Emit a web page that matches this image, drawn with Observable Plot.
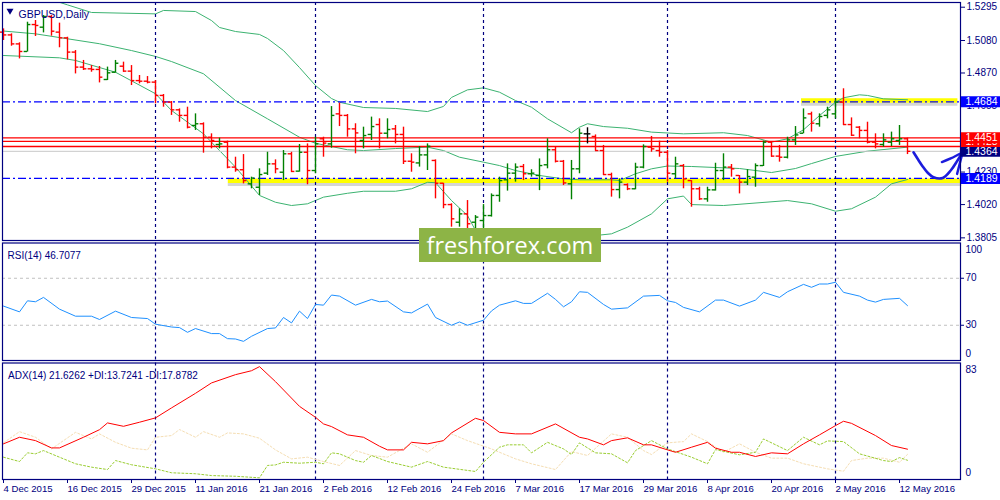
<!DOCTYPE html>
<html><head><meta charset="utf-8">
<script src="https://cdn.jsdelivr.net/npm/d3@7"></script>
<script src="https://cdn.jsdelivr.net/npm/@observablehq/plot@0.6"></script>
<style>
html,body{margin:0;padding:0;background:#fff;}
#wrap{position:relative;width:1000px;height:500px;overflow:hidden;background:#fff;}
#wrap svg{position:absolute;left:0;top:0;}
#wm{position:absolute;left:419px;top:228px;width:182px;height:34px;background:#8db446;color:#fff;
 font-family:'Open Sans',sans-serif;font-size:23.5px;line-height:34px;text-align:center;}
</style></head><body><div id="wrap"></div>
<script>
// ---------- data ----------
const dateTickIdx = [0,8,16,24,32,40,48,56,64,72,80,88,96,104,112];
const dateLabels = ["4 Dec 2015","16 Dec 2015","29 Dec 2015","11 Jan 2016","21 Jan 2016","2 Feb 2016","12 Feb 2016","24 Feb 2016","7 Mar 2016","17 Mar 2016","29 Mar 2016","8 Apr 2016","20 Apr 2016","2 May 2016","12 May 2016"];
const monthStartIdx = [19,39,60,83,104];

const open = [1.5134,1.5116,1.5058,1.5009,1.5183,1.5166,1.5235,1.5134,1.5097,1.5005,
1.4908,1.4897,1.4893,1.4828,1.4875,1.4914,1.4882,1.4821,1.4817,1.4811,
1.4725,1.4682,1.4632,1.4596,1.4531,1.4542,1.4455,1.4408,1.4423,1.4262,
1.4245,1.4154,1.4132,1.4223,1.4283,1.4229,1.4348,1.4236,1.4358,1.4240,
1.4445,1.4412,1.4606,1.4596,1.4509,1.4434,1.4473,1.4537,1.4481,1.4509,
1.4473,1.4300,1.4289,1.4341,1.4305,1.4158,1.4020,1.3906,1.3960,1.3906,
1.3917,1.3949,1.4079,1.4180,1.4223,1.4266,1.4219,1.4208,1.4277,1.4374,
1.4300,1.4154,1.4251,1.4477,1.4460,1.4369,1.4214,1.4117,1.4149,1.4122,
1.4262,1.4391,1.4369,1.4358,1.4219,1.4272,1.4175,1.4122,1.4057,1.4115,
1.4240,1.4262,1.4208,1.4165,1.4197,1.4272,1.4423,1.4333,1.4326,1.4438,
1.4481,1.4606,1.4542,1.4596,1.4606,1.4682,1.4537,1.4520,1.4499,1.4423,
1.4408,1.4423,1.4434,1.4445];
const high = [1.5155,1.5123,1.5065,1.5198,1.5209,1.5241,1.5241,1.5192,1.5101,1.5015,
1.4951,1.4918,1.4912,1.4908,1.4951,1.4940,1.4918,1.4854,1.4847,1.4821,
1.4731,1.4686,1.4638,1.4649,1.4606,1.4548,1.4477,1.4449,1.4430,1.4326,
1.4343,1.4197,1.4251,1.4358,1.4309,1.4369,1.4358,1.4408,1.4412,1.4455,
1.4455,1.4653,1.4675,1.4602,1.4542,1.4520,1.4585,1.4574,1.4574,1.4531,
1.4520,1.4348,1.4395,1.4412,1.4309,1.4158,1.4025,1.3993,1.4046,1.3949,
1.4020,1.4089,1.4197,1.4283,1.4283,1.4279,1.4245,1.4315,1.4445,1.4391,
1.4305,1.4305,1.4509,1.4516,1.4470,1.4402,1.4223,1.4186,1.4154,1.4287,
1.4406,1.4460,1.4430,1.4369,1.4326,1.4279,1.4175,1.4132,1.4132,1.4287,
1.4348,1.4279,1.4208,1.4245,1.4283,1.4430,1.4423,1.4402,1.4455,1.4524,
1.4638,1.4617,1.4606,1.4649,1.4697,1.4768,1.4580,1.4524,1.4552,1.4477,
1.4477,1.4488,1.4531,1.4449];
const low = [1.5080,1.5043,1.4961,1.5005,1.5106,1.5129,1.5108,1.5033,1.4955,1.4864,
1.4886,1.4875,1.4806,1.4821,1.4869,1.4875,1.4789,1.4800,1.4800,1.4671,
1.4649,1.4596,1.4552,1.4509,1.4499,1.4352,1.4380,1.4380,1.4251,1.4229,
1.4154,1.4122,1.4079,1.4208,1.4219,1.4175,1.4229,1.4229,1.4148,1.4219,
1.4326,1.4384,1.4524,1.4455,1.4348,1.4380,1.4434,1.4380,1.4445,1.4412,
1.4279,1.4229,1.4262,1.4240,1.4057,1.3993,1.3874,1.3874,1.3853,1.3831,
1.3853,1.3939,1.4035,1.4107,1.4165,1.4175,1.4197,1.4110,1.4251,1.4289,
1.4143,1.4051,1.4219,1.4412,1.4365,1.4208,1.4068,1.4057,1.4110,1.4115,
1.4251,1.4358,1.4326,1.4165,1.4186,1.4122,1.4003,1.4046,1.4035,1.4107,
1.4175,1.4197,1.4089,1.4143,1.4132,1.4266,1.4326,1.4294,1.4315,1.4402,
1.4477,1.4488,1.4520,1.4574,1.4574,1.4531,1.4460,1.4445,1.4412,1.4380,
1.4391,1.4395,1.4402,1.4343];
const close = [1.5116,1.5058,1.5009,1.5183,1.5177,1.5235,1.5140,1.5097,1.5005,1.4908,
1.4897,1.4893,1.4843,1.4871,1.4933,1.4882,1.4821,1.4817,1.4811,1.4725,
1.4682,1.4632,1.4596,1.4520,1.4542,1.4455,1.4434,1.4412,1.4262,1.4245,
1.4175,1.4191,1.4214,1.4283,1.4251,1.4348,1.4234,1.4358,1.4240,1.4412,
1.4417,1.4596,1.4596,1.4509,1.4483,1.4466,1.4524,1.4481,1.4505,1.4473,
1.4300,1.4294,1.4341,1.4397,1.4158,1.4020,1.3928,1.3960,1.3896,1.3939,
1.3949,1.4079,1.4175,1.4223,1.4262,1.4219,1.4223,1.4272,1.4374,1.4300,
1.4160,1.4251,1.4481,1.4477,1.4369,1.4214,1.4117,1.4165,1.4122,1.4262,
1.4395,1.4380,1.4358,1.4223,1.4283,1.4186,1.4122,1.4057,1.4115,1.4240,
1.4262,1.4251,1.4165,1.4201,1.4272,1.4423,1.4333,1.4326,1.4438,1.4470,
1.4580,1.4546,1.4589,1.4632,1.4682,1.4537,1.4468,1.4499,1.4423,1.4412,
1.4438,1.4445,1.4445,1.4364];

// Bollinger bands [bar index, price]
const bbUpper = [[0,1.5400],[5,1.5360],[8,1.5310],[11,1.5261],[19,1.5252],[20,1.5274],[24,1.5267],[26,1.5209],[27,1.5164],[29,1.5138],[32,1.5119],[33,1.5093],[35,1.5015],[37,1.4905],[39,1.4789],[41,1.4705],[42,1.4681],[45,1.4647],[49,1.4641],[53,1.4621],[55,1.4654],[56,1.4712],[58,1.4761],[60,1.4774],[62,1.4746],[64,1.4692],[66,1.4649],[68,1.4574],[71,1.4484],[72,1.4520],[73,1.4542],[75,1.4524],[78,1.4513],[81,1.4488],[85,1.4477],[90,1.4484],[93,1.4466],[96,1.4423],[98,1.4445],[100,1.4503],[102,1.4595],[104,1.4681],[105,1.4710],[107,1.4729],[108,1.4725],[110,1.4703],[113,1.4697]];
const bbMiddle = [[0,1.5141],[4,1.5123],[8,1.5091],[12,1.5059],[16,1.5015],[19,1.4977],[21,1.4944],[25,1.4865],[29,1.4692],[33,1.4574],[37,1.4455],[39,1.4416],[43,1.4374],[45,1.4369],[49,1.4382],[53,1.4391],[55,1.4369],[57,1.4326],[60,1.4294],[62,1.4272],[64,1.4240],[67,1.4208],[70,1.4186],[72,1.4180],[76,1.4180],[77,1.4175],[79,1.4219],[81,1.4251],[83,1.4269],[86,1.4266],[92,1.4253],[96,1.4227],[99,1.4253],[101,1.4285],[104,1.4331],[108,1.4365],[113,1.4391]];
const bbLower = [[0,1.4983],[7,1.4968],[9,1.4951],[14,1.4875],[19,1.4736],[21,1.4628],[25,1.4477],[27,1.4369],[29,1.4262],[31,1.4140],[32,1.4079],[34,1.4035],[36,1.4014],[38,1.4025],[40,1.4068],[43,1.4093],[45,1.4106],[49,1.4106],[51,1.4122],[53,1.4164],[54,1.4161],[56,1.4046],[58,1.3949],[59,1.3853],[62,1.3801],[66,1.3785],[70,1.3801],[74,1.3820],[76,1.3831],[78,1.3874],[81,1.3960],[83,1.4057],[85,1.4075],[86,1.4020],[90,1.4014],[98,1.4046],[101,1.4025],[104,1.3977],[106,1.3993],[109,1.4068],[111,1.4154],[113,1.4182]];

const rsi = [[0,46.3],[2,41.4],[3,50.8],[4,50],[5,53.7],[7,43.7],[9,37.7],[11,37.7],[12,34.9],[14,42],[16,36.6],[18,35.7],[19,30.9],[21,28.5],[22,28],[23,24],[24,27.2],[26,22.9],[27,22.9],[28,18.6],[29,18.3],[30,16.3],[31,20.6],[33,27.2],[34,27.7],[35,36.6],[36,32],[37,42],[38,35.7],[39,47.7],[40,47.1],[41,55.7],[42,54.8],[44,47.1],[46,52],[47,50],[48,50.6],[50,41.4],[51,40.5],[53,48],[54,36.6],[56,30],[57,32.8],[58,30],[60,34.3],[61,42.2],[62,47.1],[64,50.8],[65,48.6],[66,48.6],[68,57.2],[69,52],[70,45.7],[71,50],[72,58.5],[73,58],[75,47.7],[76,43.7],[78,44.8],[80,54.8],[82,55.4],[83,50.8],[84,49.4],[85,45.2],[87,41.4],[89,51.4],[90,51.4],[92,46.3],[94,51.4],[95,58],[97,53.7],[98,58.5],[100,64.8],[101,62.3],[102,65.1],[103,65.1],[104,66.6],[105,58],[107,54.8],[108,51.4],[109,49.7],[110,52],[112,52.9],[113,46.7]];
const rsiLevels = [70,30];

const adx = [[0,25.4],[2,30.1],[4,27.7],[6,22.5],[7,22.5],[10,30.1],[12,35.5],[13,40.3],[15,37.9],[17,40.8],[19,43.9],[21,51],[24,61.4],[26,68.8],[29,74.7],[31,77.5],[32,80.4],[34,69.7],[37,52.1],[39,44.3],[40,39.6],[41,37.7],[43,31.8],[45,30.1],[47,23.7],[48,21.1],[50,21.1],[51,26.5],[53,25.4],[55,27.7],[56,33.2],[59,43.6],[60,42],[62,33.6],[64,32.5],[66,32.5],[69,39.6],[72,30.1],[73,28.9],[75,24.7],[76,27.7],[78,29.7],[80,24.7],[81,24.7],[83,21.1],[84,19.4],[86,23],[88,26.5],[89,22.3],[91,19.4],[92,19.4],[94,16.4],[96,19],[98,18.3],[100,25.4],[102,31.8],[104,38.4],[105,41.5],[106,40],[109,31.3],[111,24.2],[113,21.6]];
const plusDI = [[0,15.9],[2,12.8],[3,19],[4,18.3],[5,20.6],[7,15.9],[9,11.2],[11,8.8],[13,7.1],[14,13.5],[16,10.5],[19,7.6],[21,4.8],[24,4.1],[26,2.8],[29,2.3],[32,1.2],[33,10],[34,10.4],[35,12.3],[37,11.6],[39,12.3],[40,11.2],[41,19],[42,18.3],[44,13.5],[45,12.3],[46,17.1],[48,12.8],[51,8.8],[53,12.8],[55,8.8],[59,5.7],[60,12.3],[62,23],[63,24.7],[65,24.7],[66,19],[68,26.5],[70,21.8],[71,17.8],[72,26.1],[74,19],[76,18.3],[78,11.9],[79,20.6],[81,27.7],[83,21.8],[86,15.9],[88,11.2],[89,21.3],[92,17.6],[94,19.4],[95,28.9],[98,20.6],[100,30.1],[102,24.7],[103,27.5],[105,27],[107,18.3],[110,13.5],[111,12.8],[112,15.6],[113,13.7]];
const minusDI = [[0,26.1],[2,34.1],[4,30.1],[6,21.8],[9,33.6],[11,28.9],[12,32.5],[14,26.5],[16,22.3],[18,21.1],[19,30.1],[21,31.3],[22,35.6],[24,30.1],[25,34.1],[27,30.1],[28,33.2],[30,32.5],[32,29.4],[34,21.1],[36,14.7],[38,15.9],[40,12.8],[42,10],[44,20.6],[46,17.1],[48,15.9],[51,25.4],[53,19.4],[56,32.5],[58,27.7],[61,21.8],[62,19.4],[64,14.7],[66,11.2],[69,7.1],[70,13.5],[71,19.9],[73,17.1],[76,32.5],[78,30.1],[80,20.6],[81,17.8],[83,26.1],[85,27],[86,32.5],[88,27],[90,19.4],[92,25.4],[94,19.4],[96,15.2],[98,15.2],[100,11.2],[103,7.6],[105,5.9],[106,13.5],[108,15.2],[110,15.2],[112,12.3],[113,17.9]];

const priceTicks = [1.5295,1.5080,1.4870,1.4655,1.4445,1.4230,1.4020,1.3805];
const resistance = 1.4684, support = 1.4189;
const redLevels = [1.4451,1.4428,1.4395];
const bidLevel = 1.4364;
const resistanceZone = [99.75,119.3];
const supportZone = [28.1,119.8];
const arrowCurve = [[113.75,1.4358],[114.4,1.4305],[114.9,1.4266],[115.5,1.4227],[116.25,1.4197],[117.4,1.4192],[118.4,1.4240],[119.25,1.4305],[119.9,1.4358]];
const arrowWing1 = [[117.3,1.4295],[118.4,1.4318],[119.9,1.4358]];
const arrowWing2 = [[119.2,1.4218],[119.9,1.4358]];
const titleText = "GBPUSD,Daily";
const rsiText = "RSI(14) 46.7077";
const adxText = "ADX(14) 21.6262 +DI:13.7241 -DI:17.8782";
const adxMax = 83;

// ---------- drawing ----------
const NAVY = "#000080", FONT = "'Liberation Sans', Arial, sans-serif";
const xDomain = [-0.125, 119.625];
const wrap = document.getElementById("wrap");
const bars = open.map((o,i)=>({i, open:o, high:high[i], low:low[i], close:close[i]}));
const groups = [
  [bars.filter(d=>d.close>d.open), "#008000"],
  [bars.filter(d=>d.close<d.open), "#ff0000"],
  [bars.filter(d=>d.close===d.open), "#000000"]
];
const px = d=>d[0], py = d=>d[1];
const boxX1 = xDomain[1]+0.12, boxX2 = xDomain[1]+6;

function panel(marginTop, marginBottom, yDomain, marks, opts){
  return Plot.plot({
    width:1000, height:500, marginLeft:2, marginRight:40, marginTop, marginBottom,
    x:{domain:xDomain, ...(opts.xAxis ? {} : {axis:null})},
    y:{domain:yDomain, ...(opts.yAxis ? {} : {axis:null})},
    style:{background: opts.bg ? "#fff" : "transparent", color:NAVY, fontFamily:FONT, fontSize:"10px"},
    marks
  });
}

const priceMarks = [
  Plot.ruleY([resistance], {x1:resistanceZone[0], x2:resistanceZone[1], stroke:"#888", strokeOpacity:0.35, strokeWidth:3, dy:2.5}),
  Plot.ruleY([resistance], {x1:resistanceZone[0], x2:resistanceZone[1], stroke:"#ffff00", strokeWidth:4.5, dy:-1.3}),
  Plot.ruleY([support], {x1:supportZone[0], x2:supportZone[1], stroke:"#888", strokeOpacity:0.35, strokeWidth:3, dy:6}),
  Plot.ruleY([support], {x1:supportZone[0], x2:supportZone[1], stroke:"#ffff00", strokeWidth:4.5, dy:2.3}),
  Plot.line(bbUpper, {x:px, y:py, stroke:"#3cb371", strokeWidth:1, clip:true}),
  Plot.line(bbMiddle, {x:px, y:py, stroke:"#3cb371", strokeWidth:1, clip:true}),
  Plot.line(bbLower, {x:px, y:py, stroke:"#3cb371", strokeWidth:1, clip:true}),
  Plot.ruleY([bidLevel], {stroke:"#c8c8c8", strokeWidth:1}),
  Plot.ruleY(redLevels, {stroke:"#ff0000", strokeWidth:1.3}),
  Plot.ruleY([resistance, support], {stroke:"#0000ff", strokeWidth:1.2, strokeDasharray:"8,3,2,3"}),
  Plot.ruleX(monthStartIdx, {stroke:NAVY, strokeWidth:1.2, strokeDasharray:"3,3"}),
];
for (const [data, color] of groups) {
  priceMarks.push(
    Plot.ruleX(data, {x:"i", y1:"low", y2:"high", stroke:color, strokeWidth:1.4}),
    Plot.ruleY(data, {y:"open", x1:d=>d.i-0.42, x2:"i", stroke:color, strokeWidth:1.4}),
    Plot.ruleY(data, {y:"close", x1:"i", x2:d=>d.i+0.42, stroke:color, strokeWidth:1.4})
  );
}
const boxText = {frameAnchor:"right", dx:5, textAnchor:"start", fill:"#fff", fontSize:10.5};
priceMarks.push(
  Plot.line(arrowCurve, {x:px, y:py, stroke:"#1c1cdc", strokeWidth:2.6, curve:"catmull-rom", strokeLinecap:"round"}),
  Plot.line(arrowWing1, {x:px, y:py, stroke:"#1c1cdc", strokeWidth:2.4, curve:"catmull-rom", strokeLinecap:"round"}),
  Plot.line(arrowWing2, {x:px, y:py, stroke:"#1c1cdc", strokeWidth:2.4, strokeLinecap:"round"}),
  Plot.frame({stroke:NAVY, strokeWidth:1.2}),
  Plot.axisY({anchor:"right", ticks:priceTicks, tickFormat:d=>d.toFixed(4), tickSize:4, tickPadding:2}),
  Plot.ruleY([redLevels[2]], {x1:boxX1, x2:boxX2, stroke:"#ff0000", strokeWidth:11}),
  Plot.text([redLevels[2]], {y:d=>d, text:d=>d.toFixed(4), ...boxText}),
  Plot.ruleY([bidLevel], {x1:boxX1, x2:boxX2, stroke:NAVY, strokeWidth:11}),
  Plot.text([bidLevel], {y:d=>d, text:d=>d.toFixed(4), ...boxText}),
  Plot.ruleY([redLevels[1]], {x1:boxX1, x2:boxX2, stroke:"#ff0000", strokeWidth:11}),
  Plot.text([redLevels[1]], {y:d=>d, text:d=>d.toFixed(4), ...boxText}),
  Plot.ruleY([redLevels[0]], {x1:boxX1, x2:boxX2, stroke:"#ff0000", strokeWidth:11}),
  Plot.text([redLevels[0]], {y:d=>d, text:d=>d.toFixed(4), ...boxText}),
  Plot.ruleY([resistance, support], {x1:boxX1, x2:boxX2, stroke:"#0000ff", strokeWidth:11}),
  Plot.text([resistance, support], {y:d=>d, text:d=>d.toFixed(4), ...boxText}),
  Plot.dot({length:1}, {frameAnchor:"top-left", dx:7.5, dy:8.3, symbol:"triangle", rotate:180, r:2.6, fill:NAVY, stroke:"none"}),
  Plot.text([titleText], {frameAnchor:"top-left", dx:16, dy:8.5, textAnchor:"start", fill:NAVY, fontSize:10.5})
);
const pricePlot = panel(2, 260, [1.37879, 1.53254], priceMarks, {bg:true, yAxis:true});

const rsiPlot = panel(242.5, 140, [0,100], [
  Plot.ruleY(rsiLevels, {stroke:"#c0c0c0", strokeDasharray:"3,3"}),
  Plot.ruleX(monthStartIdx, {stroke:NAVY, strokeWidth:1.2, strokeDasharray:"3,3"}),
  Plot.line(rsi, {x:px, y:py, stroke:"#1e90ff", strokeWidth:1}),
  Plot.frame({stroke:NAVY, strokeWidth:1.2}),
  Plot.axisY({anchor:"right", ticks:rsiLevels, tickSize:3, tickPadding:2}),
  Plot.text([100], {y:d=>d, text:String, frameAnchor:"right", dx:5, dy:7, textAnchor:"start"}),
  Plot.text([0], {y:d=>d, text:String, frameAnchor:"right", dx:5, dy:-7, textAnchor:"start"}),
  Plot.text([rsiText], {frameAnchor:"top-left", dx:5, dy:9, textAnchor:"start", fill:NAVY})
], {bg:false, yAxis:true});

const adxPlot = panel(362.5, 21, [0, adxMax], [
  Plot.ruleX(monthStartIdx, {stroke:NAVY, strokeWidth:1.2, strokeDasharray:"3,3"}),
  Plot.line(minusDI, {x:px, y:py, stroke:"#f5deb3", strokeWidth:1, strokeDasharray:"2,2"}),
  Plot.line(plusDI, {x:px, y:py, stroke:"#9acd32", strokeWidth:1, strokeDasharray:"2,2"}),
  Plot.line(adx, {x:px, y:py, stroke:"#ff0000", strokeWidth:1}),
  Plot.frame({stroke:NAVY, strokeWidth:1.2}),
  Plot.axisX({anchor:"bottom", ticks:dateTickIdx, tickFormat:d=>dateLabels[dateTickIdx.indexOf(d)], textAnchor:"start", tickSize:4, tickPadding:2, fontSize:9.6}),
  Plot.text([adxMax], {y:d=>d, text:String, frameAnchor:"right", dx:5, dy:7, textAnchor:"start"}),
  Plot.text([0], {y:d=>d, text:String, frameAnchor:"right", dx:5, dy:-7, textAnchor:"start"}),
  Plot.text([adxText], {frameAnchor:"top-left", dx:5.5, dy:8.5, textAnchor:"start", fill:NAVY})
], {bg:false, xAxis:true});

wrap.appendChild(pricePlot);
wrap.appendChild(rsiPlot);
wrap.appendChild(adxPlot);
const wm = document.createElement("div");
wm.id = "wm"; wm.textContent = "freshforex.com";
wrap.appendChild(wm);
</script></body></html>
